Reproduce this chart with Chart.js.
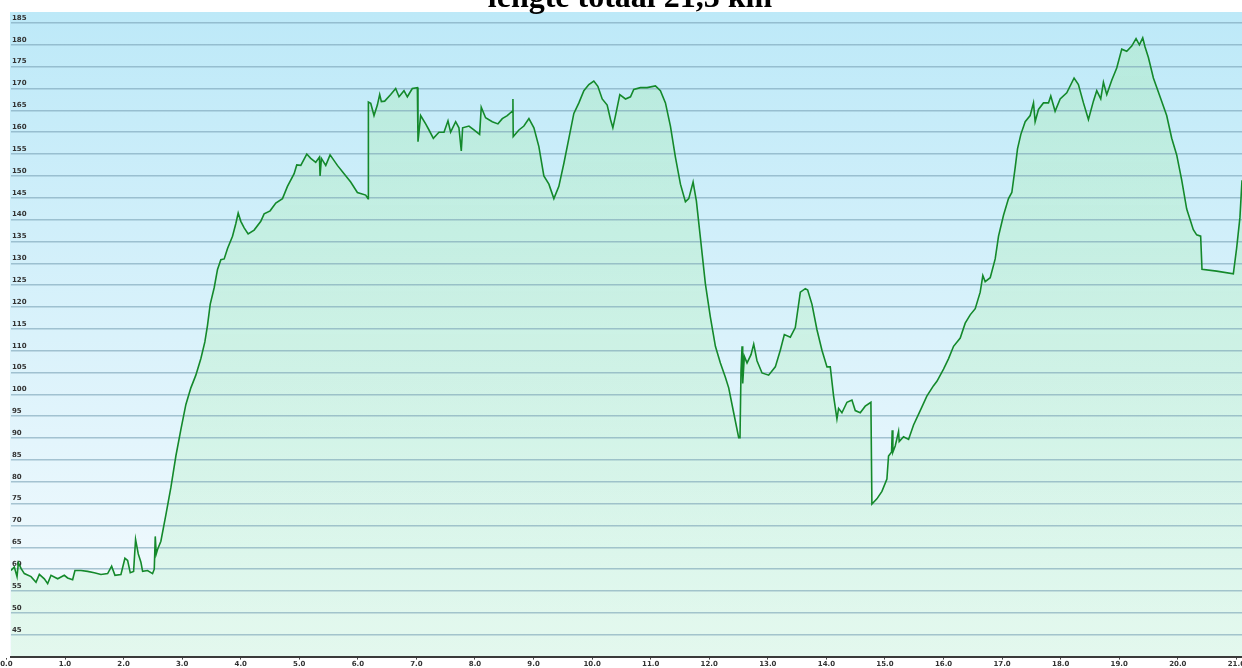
<!DOCTYPE html>
<html>
<head>
<meta charset="utf-8">
<script src="https://cdn.jsdelivr.net/npm/chart.js@4.4.1/dist/chart.umd.min.js"></script>
<style>
  html, body { margin: 0; padding: 0; background: #fff; overflow: hidden; }
  #wrap { position: relative; width: 1242px; height: 668px; }
  /* plot background sits behind the transparent canvas, on the chart area */
  #plotBg {
    position: absolute; left: 10px; top: 12px; width: 1232px; height: 644px;
    background: linear-gradient(to bottom, #bde9f8 0%, #f6fbfe 100%);
  }
  #profile { position: relative; display: block; }
  #title {
    position: absolute; left: 630px; top: -20px; transform: translateX(-50%);
    font: bold 32px "Liberation Serif", "Times New Roman", serif; line-height: 32px;
    white-space: nowrap; color: #000;
  }
</style>
</head>
<body>
<div id="wrap">
  <div id="plotBg"></div>
  <canvas id="profile" width="1242" height="668"></canvas>
  <div id="title">lengte totaal 21,3 km</div>
</div>
<script>
// --- hoogteprofiel ---
const distanceKm = [
  0.078, 0.135, 0.181, 0.204, 0.249, 0.306, 0.420, 0.505, 0.562, 0.647, 0.704, 0.761, 0.875, 0.988, 1.045, 1.130, 1.170, 1.273, 1.386, 1.500,
  1.614, 1.728, 1.796, 1.853, 1.955, 2.023, 2.069, 2.114, 2.171, 2.205, 2.251, 2.296, 2.325, 2.410, 2.495, 2.524, 2.541, 2.558, 2.580, 2.637,
  2.723, 2.808, 2.893, 2.979, 3.064, 3.149, 3.234, 3.320, 3.388, 3.433, 3.479, 3.547, 3.604, 3.661, 3.718, 3.775, 3.860, 3.917, 3.957, 4.002,
  4.059, 4.127, 4.229, 4.343, 4.400, 4.502, 4.599, 4.713, 4.798, 4.912, 4.957, 5.026, 5.128, 5.196, 5.281, 5.344,
  5.355, 5.378, 5.452, 5.526, 5.651, 5.765, 5.878, 5.992, 6.134, 6.174, 6.180, 6.220, 6.276, 6.333, 6.373, 6.402, 6.458, 6.561, 6.646, 6.703,
  6.788, 6.845, 6.930, 7.016, 7.027, 7.072, 7.158, 7.215, 7.289, 7.385, 7.471, 7.539, 7.584, 7.670, 7.726, 7.766, 7.789, 7.897, 7.982, 8.079,
  8.107, 8.181, 8.295, 8.392, 8.466, 8.551, 8.636, 8.648, 8.653, 8.750, 8.835, 8.921, 9.006, 9.091, 9.176, 9.262, 9.347, 9.432, 9.518, 9.603,
  9.688, 9.774, 9.859, 9.944, 10.029, 10.098, 10.172, 10.257, 10.314, 10.354, 10.399, 10.473, 10.570,
  10.655, 10.711, 10.825, 10.939, 11.081, 11.166, 11.252, 11.337, 11.422, 11.508, 11.593, 11.650, 11.724, 11.780, 11.849, 11.934, 12.019, 12.105, 12.190, 12.275,
  12.332, 12.417, 12.503, 12.525, 12.542, 12.560, 12.571, 12.599, 12.645, 12.713, 12.759, 12.815, 12.901, 13.014, 13.128, 13.213, 13.282, 13.384, 13.469, 13.555,
  13.640, 13.680, 13.754, 13.839, 13.924, 14.010, 14.066, 14.123, 14.180, 14.208, 14.265, 14.351, 14.436, 14.493, 14.578, 14.663, 14.760, 14.777, 14.862, 14.948,
  15.033, 15.061, 15.113, 15.124, 15.135, 15.175, 15.232, 15.243, 15.317, 15.403, 15.488, 15.602, 15.715, 15.829,
  15.887, 16.000, 16.086, 16.171, 16.285, 16.370, 16.455, 16.541, 16.626, 16.671, 16.711, 16.797, 16.882, 16.939, 17.024, 17.109, 17.166, 17.223, 17.263, 17.320,
  17.394, 17.479, 17.536, 17.564, 17.621, 17.706, 17.792, 17.831, 17.905, 17.991, 18.104, 18.229, 18.303, 18.389, 18.474, 18.559, 18.616, 18.684, 18.730, 18.787,
  18.872, 18.957, 19.043, 19.128, 19.213, 19.287, 19.344, 19.401, 19.441, 19.498, 19.583, 19.697, 19.810, 19.896, 19.981, 20.066, 20.152, 20.265, 20.322, 20.390,
  20.413, 20.663, 20.948, 21.004, 21.061, 21.096,
];
const elevationM = [
  59.7, 60.5, 58.3, 61.5, 60.2, 59, 58.3, 57, 58.8, 57.8, 56.7, 58.6, 57.8, 58.6, 58, 57.6, 59.7, 59.7, 59.5, 59.2,
  58.8, 59, 60.7, 58.6, 58.8, 62.5, 62, 59.2, 59.5, 66.8, 63.5, 61.6, 59.5, 59.7, 59, 60, 67.5, 63.5, 64.5, 66.4,
  72.5, 78.7, 85.9, 92, 97.7, 101.5, 104.4, 108.2, 112, 115.8, 120.6, 124.4, 128.6, 130.8, 131, 133.4, 136.2, 139.1, 141.5, 139.6,
  138.1, 136.7, 137.6, 139.6, 141.3, 142, 143.8, 144.8, 147.6, 150.5, 152.5, 152.4, 155, 154, 153.1, 154.3,
  150, 154, 152.4, 154.8, 152.4, 150.5, 148.6, 146.2, 145.6, 144.8, 166.9, 166.6, 163.8, 166.2, 168.6, 167, 167.1, 168.6, 170, 168.1,
  169.5, 168.1, 170, 170.2, 157.8, 163.8, 161.9, 160.5, 158.6, 160, 160, 162.6, 160, 162.4, 161, 155.7, 161, 161.4, 160.5, 159.5,
  165.7, 163.3, 162.4, 161.9, 163.1, 163.8, 164.8, 167.6, 159, 160.5, 161.4, 163.1, 161, 156.7, 150, 148.1, 144.8, 147.6, 152.9, 158.6,
  164.3, 166.7, 169.5, 170.9, 171.7, 170.5, 167.6, 166.2, 162.9, 161, 163.8, 168.6, 167.6,
  168.1, 169.8, 170.2, 170.2, 170.6, 169.5, 166.7, 161.4, 154.3, 148.1, 144.1, 144.8, 148.6, 144.3, 135.8, 125.3, 117.7, 111, 107.2, 103.9,
  101.5, 95.8, 90.1, 90.1, 105.3, 111, 102.5, 108.7, 107.2, 109.1, 111.5, 107.7, 104.9, 104.4, 106.3, 110.1, 113.7, 113.1, 115.3, 123.4,
  124.2, 123.9, 120.6, 114.8, 110.1, 106.3, 106.3, 99.6, 94.4, 96.8, 95.8, 98.2, 98.7, 96.3, 95.8, 97.3, 98.2, 74.9, 76.1, 77.8,
  80.6, 85.9, 86.8, 91.8, 86.8, 88.2, 91.5, 89.2, 90.3, 89.7, 93, 96.3, 99.6, 102,
  103, 105.8, 108.2, 111, 112.9, 116.3, 118.2, 119.6, 123.4, 127.2, 125.8, 126.7, 131, 136.2, 141, 144.8, 146.2, 151.9, 156.2, 159.5,
  162.4, 163.8, 166.7, 162.4, 165.2, 166.7, 166.7, 168.3, 164.8, 167.6, 169, 172.4, 170.9, 166.7, 162.9, 167.1, 169.5, 167.6, 171.4, 168.6,
  171.9, 174.7, 179, 178.5, 179.7, 181.4, 180, 181.6, 179.5, 177.1, 172.4, 168.1, 163.8, 158.6, 154.8, 149.1, 142.4, 137.7, 136.5, 136.2,
  128.6, 128.2, 127.6, 133.4, 140.5, 149,
];

// as-labels
const xTicks = [0, 1, 2, 3, 4, 5, 6, 7, 8, 9, 10, 11, 12, 13, 14, 15, 16, 17, 18, 19, 20, 21];
const yTicks = [45, 50, 55, 60, 65, 70, 75, 80, 85, 90, 95, 100, 105, 110, 115, 120, 125, 130, 135, 140, 145, 150, 155, 160, 165, 170, 175, 180, 185];

const tickFont = { family: "'DejaVu Sans', Verdana, sans-serif", size: 7, weight: 'bold' };

const ctx = document.getElementById('profile').getContext('2d');
new Chart(ctx, {
  type: 'line',
  data: {
    datasets: [{
      label: 'hoogte',
      data: distanceKm.map((km, i) => ({ x: km, y: elevationM[i] })),
      borderColor: '#14892b',
      borderWidth: 1.6,
      pointRadius: 0,
      tension: 0,
      fill: 'start',
      backgroundColor(c) {
        const a = c.chart.chartArea;
        if (!a) return 'rgba(0,0,0,0)';
        const g = c.chart.ctx.createLinearGradient(0, a.top, 0, a.bottom);
        g.addColorStop(0, 'rgba(165,235,170,0.34)');
        g.addColorStop(1, 'rgba(200,245,215,0.40)');
        return g;
      },
    }],
  },
  options: {
    responsive: false,
    animation: false,
    layout: { padding: { left: 9, top: 12, right: 0, bottom: 0 } },
    plugins: {
      legend: { display: false },
      tooltip: { enabled: false },
      title: { display: false },
      filler: { drawTime: 'beforeDraw' }, // fill under grid lines and labels
    },
    scales: {
      x: {
        type: 'linear',
        min: 0.078,
        max: 21.096,
        afterBuildTicks(s) { s.ticks = xTicks.map(v => ({ value: v })); },
        afterFit(s) { s.paddingLeft = 0; s.paddingRight = 0; },
        ticks: { callback: v => v.toFixed(1), font: tickFont, color: '#333', padding: 0, maxRotation: 0, autoSkip: false },
        grid: { drawOnChartArea: false, drawTicks: true, tickLength: 3, tickColor: '#444' },
        border: { color: '#3a3a3a', width: 2 },
      },
      y: {
        min: 40,
        max: 187.5,
        afterBuildTicks(s) { s.ticks = yTicks.map(v => ({ value: v })); },
        afterFit(s) { s.paddingTop = 0; s.paddingBottom = 0; },
        ticks: { mirror: true, padding: 1, labelOffset: -5, font: tickFont, color: '#333' },
        grid: { color: 'rgba(120,160,180,0.6)', lineWidth: 1.5, drawTicks: false },
        border: { display: false },
      },
    },
  },
});
</script>
</body>
</html>
